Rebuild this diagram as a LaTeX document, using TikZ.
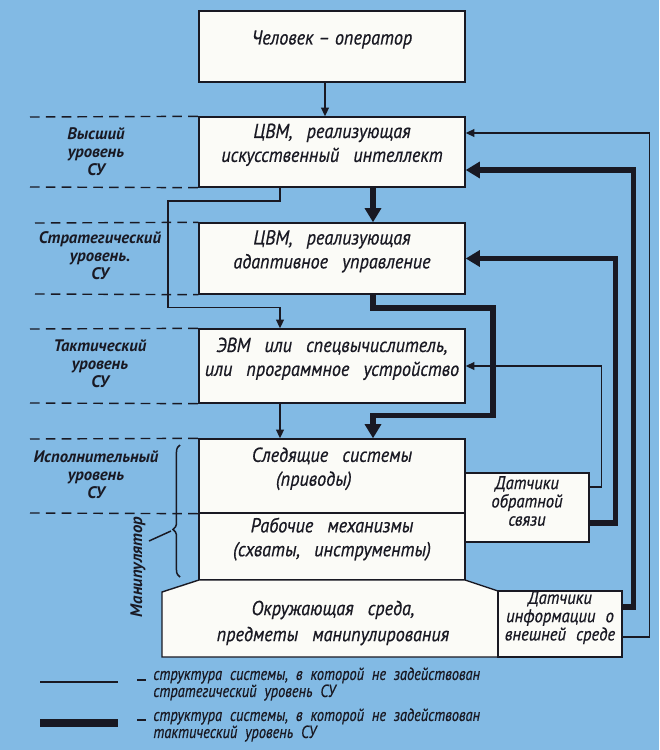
\documentclass[tikz,border=0pt]{standalone}
\usepackage{fontspec}
\setmainfont{PT Sans}
\newfontfamily\cfont[FakeStretch=0.9,FakeBold=0.6]{PT Sans}
\newfontfamily\lfont[FakeStretch=0.82,FakeBold=0.5]{PT Sans}
\usetikzlibrary{arrows.meta,calc,fit,decorations.pathreplacing}
\definecolor{bgblue}{RGB}{130,186,228}
\definecolor{paper}{RGB}{251,251,247}
\definecolor{ink}{RGB}{25,25,35}
\protected\def\wspA{\spaceskip=0.7em\relax}
\protected\def\wspB{\spaceskip=0.55em\relax}
\protected\def\wspC{\spaceskip=0.25em\relax}
\protected\def\wspD{\spaceskip=0.45em\relax}
\begin{document}
\begin{tikzpicture}[x=0.02cm,y=-0.02cm,
  boxfont/.style={font=\cfont\itshape\fontsize{11.5}{13.6}\selectfont\wspA},
  smallfont/.style={font=\cfont\itshape\fontsize{10.5}{10.4}\selectfont\wspB},
  box/.style={draw=ink, line width=0.8pt, fill=paper, inner sep=0pt, align=center, text=ink, boxfont},
  sbox/.style={box, smallfont},
  thinln/.style={draw=ink, line width=0.85pt},
  thickln/.style={draw=ink, line width=3pt},
  tarr/.style={thinln, -{Triangle[length=5pt,width=4.5pt]}},
  Tarr/.style={thickln, -{Triangle[length=8pt,width=9pt]}},
  lvl/.style={draw=ink, line width=0.8pt, dash pattern=on 5.5pt off 3.5pt},
  lab/.style={text=ink, align=center, inner sep=0pt, font=\bfseries\itshape\fontsize{9.5}{10.3}\selectfont},
  legfont/.style={text=ink, inner sep=0pt, font=\lfont\itshape\fontsize{10}{9.7}\selectfont\wspD},
]
\fill[bgblue] (0,0) rectangle (659,750);
\useasboundingbox (0,0) rectangle (659,750);

% main column
\node[box, fit={(199,11) (465,82)}] (op) {{\wspC Человек – оператор}};
\node[box, fit={(199,117) (465,187)}] (ai) {ЦВМ, реализующая\\искусственный интеллект};
\node[box, fit={(199,223) (465,294)}] (cad) {ЦВМ, реализующая\\адаптивное управление};
\node[box, fit={(199,329) (465,403)}] (evm) {ЭВМ или спецвычислитель,\\или программное устройство};
\node[box, fit={(199,439) (465,513)}] (servo) {Следящие системы\\(приводы)\hspace*{1.8em}};
\node[box, fit={(199,513) (465,580)}] (mech) {Рабочие механизмы\\(схваты, инструменты)};

% environment
\draw[draw=ink, line width=0.8pt, fill=paper] (162,592) -- (199,580) -- (465,580) -- (498,591) -- (498,657) -- (162,657) -- cycle;
\node[text=ink, align=center, inner sep=0pt, font=\cfont\itshape\fontsize{11.5}{14.8}\selectfont\wspA] (env) at (333,623) {Окружающая среда,\\предметы манипулирования};
\node[sbox, fit={(498,591) (622,657)}] (sinfo) {Датчики\\информации о\\внешней среде};
\node[sbox, fit={(465,473) (589,542)}] (sfb) {Датчики\\обратной\\связи};

% level dashed lines
\draw[lvl] (30,117) -- (ai.north west);
\draw[lvl] (30,187) -- (ai.south west);
\draw[lvl] (35,223) -- (cad.north west);
\draw[lvl] (35,294) -- (cad.south west);
\draw[lvl] (30,329) -- (evm.north west);
\draw[lvl] (30,403) -- (evm.south west);
\draw[lvl] (30,439) -- (servo.north west);
\draw[lvl] (30,513) -- (servo.south west);

% level labels
\node[lab] (lhi) at (96,152) {Высший\\уровень\\СУ};
\node[lab] (lstr) at (100,256) {Стратегический\\уровень.\\СУ};
\node[lab] (ltac) at (100,364) {Тактический\\уровень\\СУ};
\node[lab] (lexe) at (96,475) {Исполнительный\\уровень\\СУ};

% manipulator brace
\draw[thinln, decorate, decoration={brace, amplitude=4pt, aspect=0.36}] (180,577) -- (180,445);
\node[lab, rotate=90] (manl) at (138,567) {Манипулятор};
\coordinate (btip) at (171,531);
\coordinate (lead) at (149,541);
\draw[thinln] (lead) -- (btip);

% vertical connectors
\draw[tarr] ($(op.south)+(-7,0)$) -- ($(ai.north)+(-7,0)$);
\draw[Tarr] ($(ai.south)+(41,0)$) -- ($(cad.north)+(41,0)$);
\draw[tarr] ($(ai.south)+(-52,0)$) |- (168,201) |- ($(evm.north)+(-52,-21)$) -- ($(evm.north)+(-52,0)$);
\draw[Tarr] ($(cad.south)+(41,0)$) |- (493,308) |- ($(servo.north)+(41,-23)$) -- ($(servo.north)+(41,0)$);
\draw[tarr] ($(evm.south)+(-52,0)$) -- ($(servo.north)+(-52,0)$);

% feedback connectors
\draw[tarr] ($(sfb.east)+(0,-20.5)$) -| ($(evm.east)+(136,0)$) -- (evm.east);
\draw[Tarr] ($(sfb.east)+(0,15.5)$) -| ($(cad.east)+(150,0)$) -- (cad.east);
\draw[Tarr] ($(sinfo.east)+(0,-17)$) -| ($(ai.east)+(168,18)$) -- ($(ai.east)+(0,18)$);
\draw[tarr] ($(sinfo.east)+(0,13)$) -| ($(ai.east)+(184,-19)$) -- ($(ai.east)+(0,-19)$);

% legend
\coordinate (l1a) at (40,682);
\coordinate (l1b) at (118,682);
\draw[draw=ink, line width=1pt] (l1a) -- (l1b);
\draw[draw=ink, line width=0.9pt] (137,680) -- (146,680) coordinate (d1);
\node[legfont, anchor=west, align=left] (t1) at (153,684) {структура системы, в которой не задействован\\стратегический уровень СУ};
\coordinate (l2a) at (40,723);
\coordinate (l2b) at (118,723);
\draw[draw=ink, line width=4pt] (l2a) -- (l2b);
\draw[draw=ink, line width=0.9pt] (137,720) -- (146,720) coordinate (d2);
\node[legfont, anchor=west, align=left] (t2) at (153,725) {структура системы, в которой не задействован\\тактический уровень СУ};
\end{tikzpicture}
\end{document}
